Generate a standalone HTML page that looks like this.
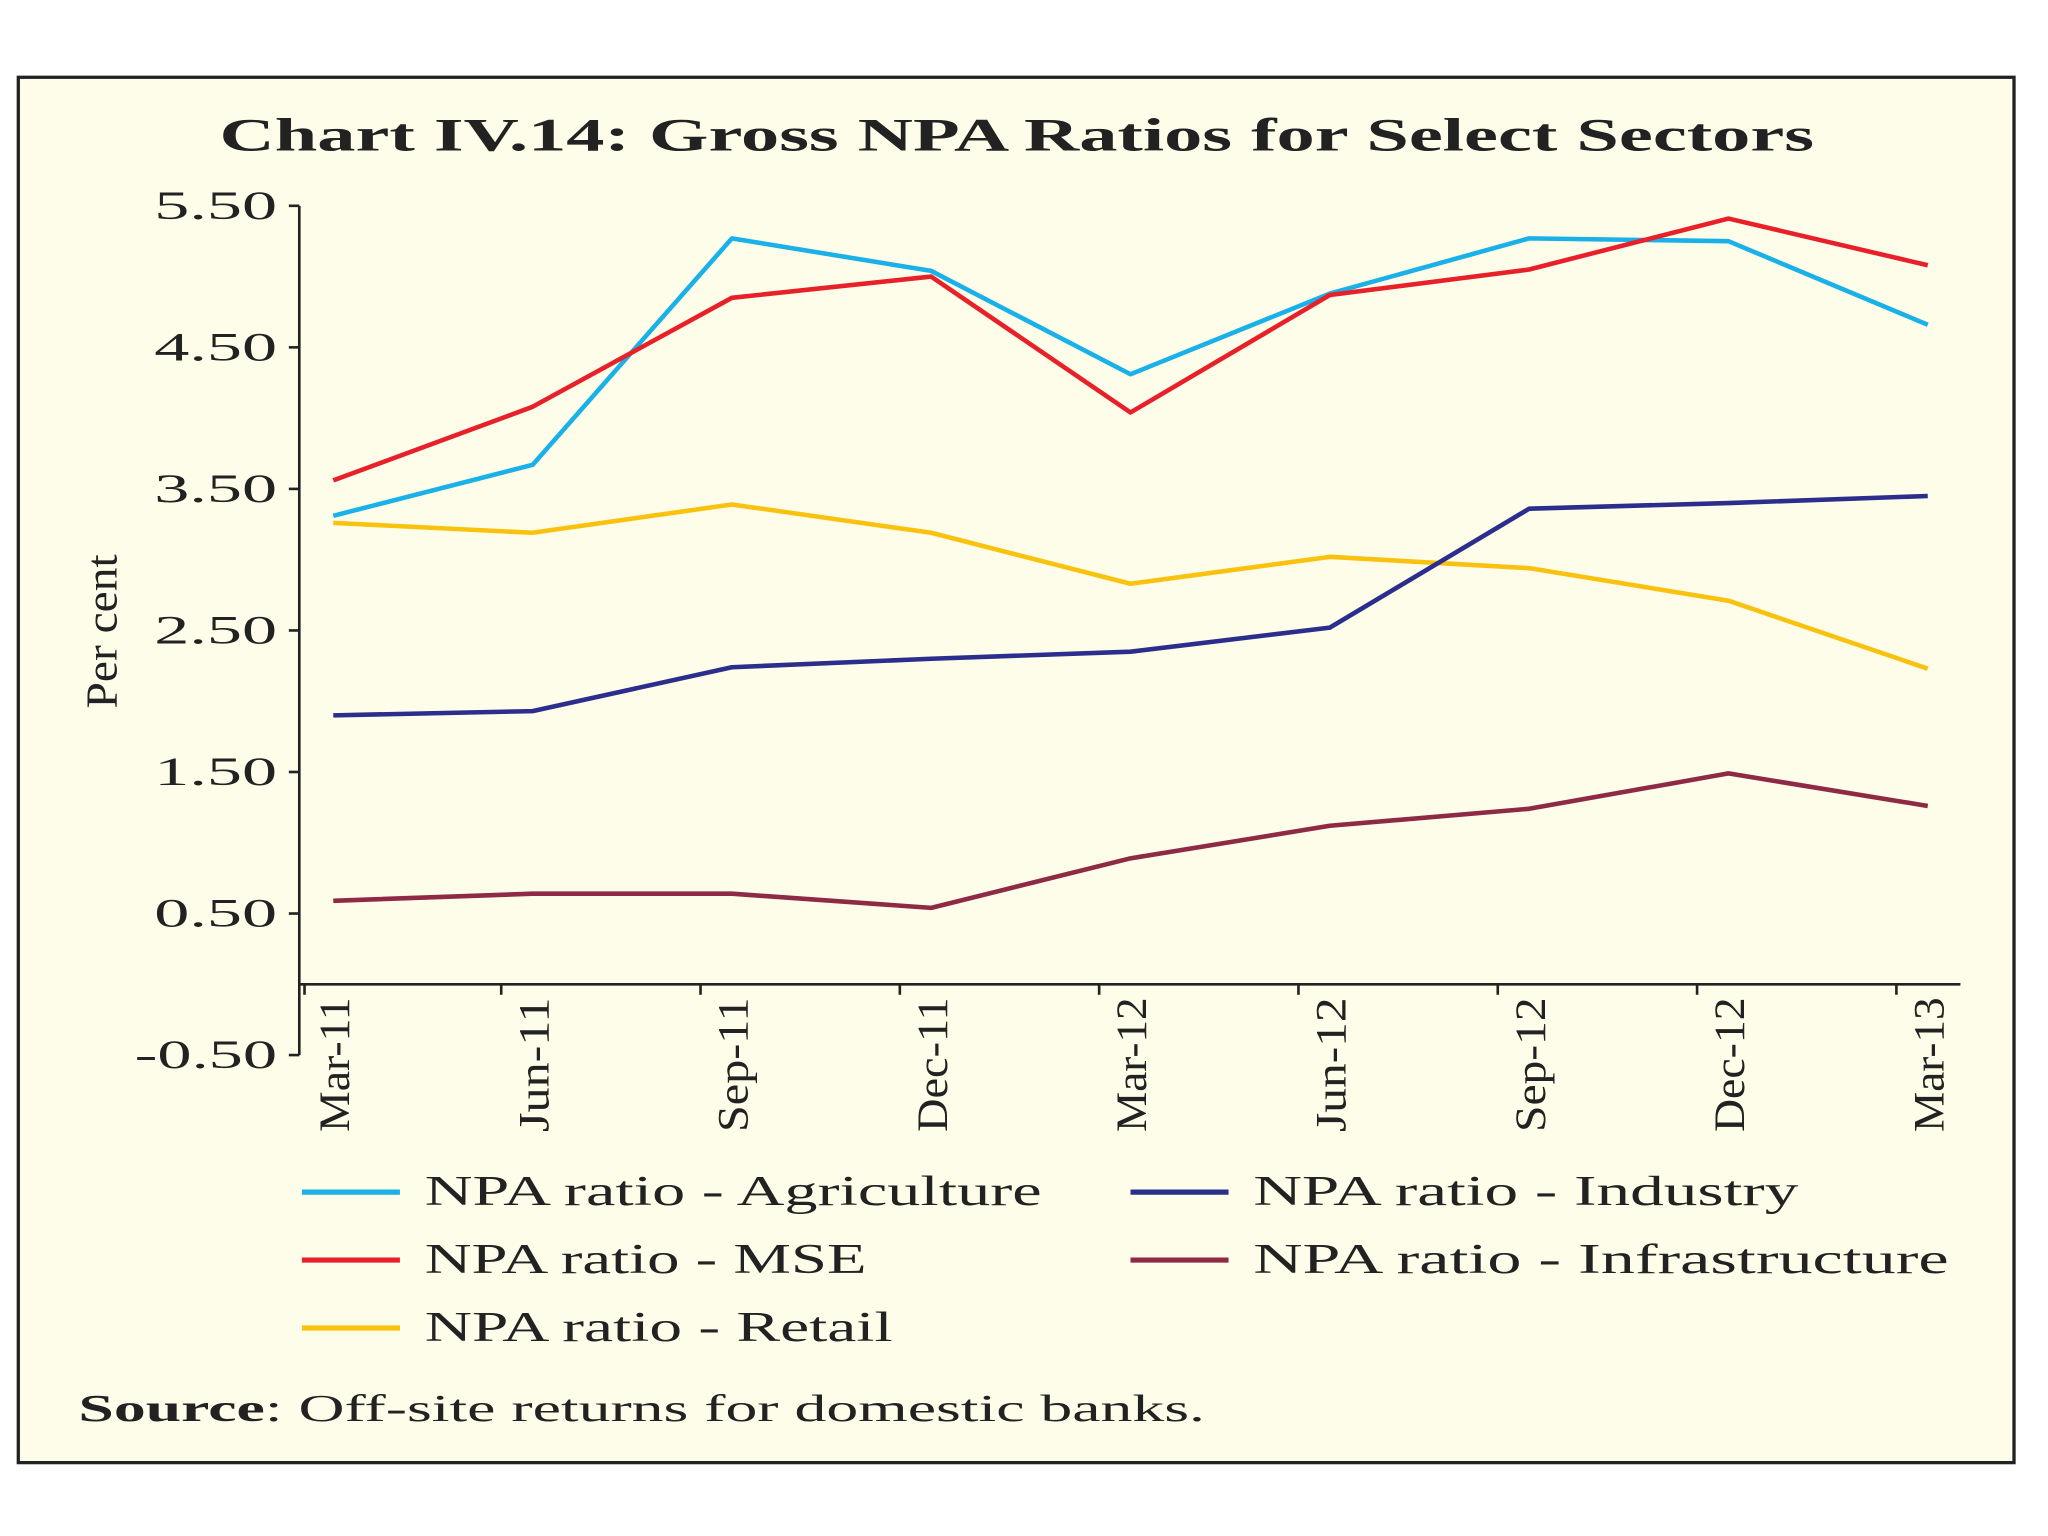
<!DOCTYPE html>
<html><head><meta charset="utf-8"><style>
html,body{margin:0;padding:0;background:#fff;width:2048px;height:1536px;overflow:hidden}
svg{display:block}
text{font-family:"Liberation Serif",serif;fill:#222}
</style></head><body>
<svg id="chart" width="2048" height="1536" viewBox="0 0 1567 1175" xmlns="http://www.w3.org/2000/svg">
<rect x="14" y="59" width="1527" height="1060" fill="#fdfde9" stroke="#222" stroke-width="2.5"/>
<text x="168" y="115" font-size="36" font-weight="bold" textLength="1220" lengthAdjust="spacingAndGlyphs">Chart IV.14: Gross NPA Ratios for Select Sectors</text>
<text transform="translate(89,483) rotate(-90)" text-anchor="middle" font-size="34" textLength="118" lengthAdjust="spacingAndGlyphs">Per cent</text>
<g id="axes"></g>
<g id="series"></g>
<g id="legend"></g>
<text x="60" y="1087" font-size="29" textLength="862" lengthAdjust="spacingAndGlyphs"><tspan font-weight="bold">Source</tspan>: Off-site returns for domestic banks.</text>
</svg>
<script>
const categories=["Mar-11","Jun-11","Sep-11","Dec-11","Mar-12","Jun-12","Sep-12","Dec-12","Mar-13"];
const yTicks=[5.5,4.5,3.5,2.5,1.5,0.5,-0.5];
const agriculture=[3.31,3.67,5.27,5.04,4.31,4.88,5.27,5.25,4.66];
const mse=[3.56,4.08,4.85,5.0,4.04,4.87,5.05,5.41,5.08];
const retail=[3.26,3.19,3.39,3.19,2.83,3.02,2.94,2.71,2.23];
const industry=[1.90,1.93,2.24,2.30,2.35,2.52,3.36,3.40,3.45];
const infrastructure=[0.59,0.64,0.64,0.54,0.89,1.12,1.24,1.49,1.26];
const seriesNames=["NPA ratio - Agriculture","NPA ratio - MSE","NPA ratio - Retail","NPA ratio - Industry","NPA ratio - Infrastructure"];
const seriesColors=["#1ab0e8","#e8202a","#f9c20e","#2b2e8c","#8e2a44"];
const seriesData=[agriculture,mse,retail,industry,infrastructure];

const NS="http://www.w3.org/2000/svg";
const x0=229,x1=1500,zeroY=753,unit=108.3;
const X=i=>255+i*152.5;
const Y=v=>zeroY-v*unit;
function mk(tag,attrs,parent){const e=document.createElementNS(NS,tag);for(const k in attrs)e.setAttribute(k,attrs[k]);parent.appendChild(e);return e;}
const axes=document.getElementById('axes');
const ya=mk('line',{x1:x0,y1:Y(5.5),x2:x0,y2:Y(-0.5),stroke:'#222','stroke-width':2},axes);


const xa=mk('line',{x1:x0,y1:zeroY,x2:x1,y2:zeroY,stroke:'#222','stroke-width':2},axes);


yTicks.forEach(v=>{
  mk('line',{x1:x0-8,y1:Y(v),x2:x0,y2:Y(v),stroke:'#222','stroke-width':2},axes);
  const s=v.toFixed(2);
  const t=mk('text',{x:x0-17,y:Y(v)+10,'text-anchor':'end','font-size':31,textLength:s.length>4?109:94,lengthAdjust:'spacingAndGlyphs'},axes);
  t.textContent=s;
  
  
});
categories.forEach((c,i)=>{
  const tx=i===0?x0+4:X(i)-24;
  mk('line',{x1:tx,y1:zeroY,x2:tx,y2:zeroY+8,stroke:'#222','stroke-width':2},axes);
  const t=mk('text',{transform:`translate(${X(i)+12},${zeroY+10}) rotate(-90)`,'text-anchor':'end','font-size':33,textLength:103,lengthAdjust:'spacingAndGlyphs'},axes);
  t.textContent=c;
  
  
});
const sg=document.getElementById('series');
seriesData.forEach((d,s)=>{
  const p=mk('polyline',{points:d.map((v,i)=>X(i)+','+Y(v)).join(' '),fill:'none',stroke:seriesColors[s],'stroke-width':3.5,'stroke-linejoin':'round'},sg);
  
  
});
const lg=document.getElementById('legend');
const lpos=[[231,912],[231,964],[231,1016],[865,912],[865,964]];
const lwid=[472,338,358,417,532];
seriesNames.forEach((n,s)=>{
  const [lx,ly]=lpos[s];
  const g=mk('g',{},lg);
  
  
  mk('line',{x1:lx,y1:ly,x2:lx+75,y2:ly,stroke:seriesColors[s],'stroke-width':4},g);
  const t=mk('text',{x:lx+94,y:ly+10,'font-size':32,textLength:lwid[s],lengthAdjust:'spacingAndGlyphs'},g);
  t.textContent=n;
});
</script>
</body></html>
